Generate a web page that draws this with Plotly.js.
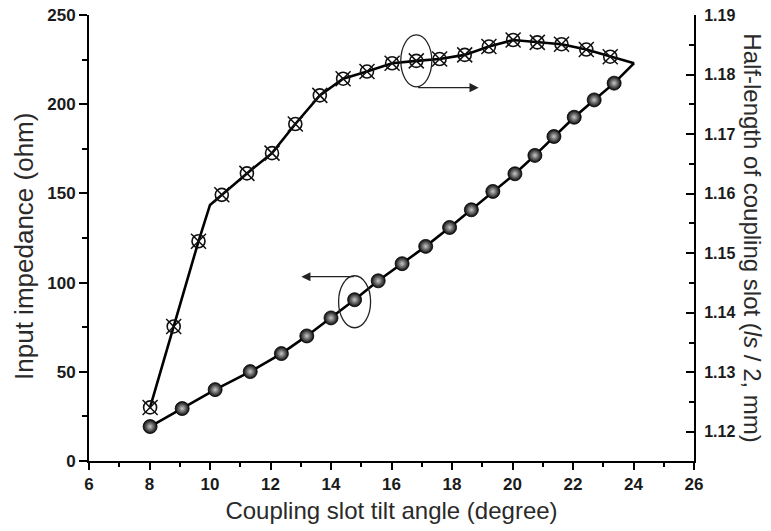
<!DOCTYPE html>
<html>
<head>
<meta charset="utf-8">
<script src="https://cdn.plot.ly/plotly-3.0.1.min.js"></script>
<style>html,body{margin:0;padding:0;background:#fff;}#chart{width:771px;height:531px;}</style>
</head>
<body>
<div id="chart"></div>
<script>
// Series 1: input impedance (left axis), filled spheres
const tiltAngleZ = [8.02, 9.08, 10.17, 11.33, 12.36, 13.2, 14.0, 14.78, 15.56, 16.35, 17.13, 17.92, 18.64, 19.35, 20.08, 20.74, 21.37, 22.04, 22.70, 23.36, 24.02];
const impedance  = [19.3, 29.4, 40.0, 50.1, 60.2, 70.1, 80.2, 90.4, 101.0, 110.6, 120.3, 130.9, 140.8, 151.1, 161.0, 171.3, 181.9, 192.7, 202.4, 211.8, 223.0];
const impedanceMarked = [1,1,1,1,1,1,1,1,1,1,1,1,1,1,1,1,1,1,1,1,0];

// Series 2: half-length of coupling slot (right axis), open circle-x markers
const tiltAngleL = [8.02, 8.80, 9.62, 10.0, 10.39, 11.22, 12.05, 12.82, 13.63, 14.0, 14.40, 15.19, 16.02, 16.82, 17.59, 18.42, 19.22, 20.02, 20.82, 21.62, 22.44, 23.23, 24.02];
const halfLength = [1.1241, 1.1377, 1.1520, 1.1581, 1.1598, 1.1634, 1.1668, 1.1717, 1.1765, 1.1778, 1.1793, 1.1805, 1.1819, 1.1823, 1.1826, 1.1833, 1.1847, 1.1858, 1.1854, 1.1851, 1.1842, 1.1830, 1.1819];
const halfLengthMarked = [1,1,1,0,1,1,1,1,1,0,1,1,1,1,1,1,1,1,1,1,1,1,0];

const xTickVals = [6, 8, 10, 12, 14, 16, 18, 20, 22, 24, 26];
const leftTickVals = [0, 50, 100, 150, 200, 250];
const rightTickVals = [1.12, 1.13, 1.14, 1.15, 1.16, 1.17, 1.18, 1.19];

function pick(arr, flags) { return arr.filter((v, i) => flags[i]); }

const tickFont = {family: 'Liberation Sans, Arial, sans-serif', size: 17, color: '#1a1a1a', weight: 'bold'};
const rightTickFont = {family: 'Liberation Sans, Arial, sans-serif', size: 16, color: '#1a1a1a', weight: 'bold'};
const titleFont = {family: 'Liberation Sans, Arial, sans-serif', size: 24, color: '#2a2a2a'};

const traces = [
  {x: tiltAngleZ, y: impedance, mode: 'lines', line: {color: '#000', width: 2.6}, xaxis: 'x', yaxis: 'y', hoverinfo: 'skip'},
  {x: pick(tiltAngleZ, impedanceMarked), y: pick(impedance, impedanceMarked), mode: 'markers', xaxis: 'x', yaxis: 'y',
   marker: {symbol: 'circle', size: 14, color: '#080808', gradient: {type: 'radial', color: '#c8c8c8'}, line: {width: 0.8, color: '#000'}}},
  {x: tiltAngleL, y: halfLength, mode: 'lines', line: {color: '#000', width: 2.6}, xaxis: 'x', yaxis: 'y2', hoverinfo: 'skip'},
  {x: pick(tiltAngleL, halfLengthMarked), y: pick(halfLength, halfLengthMarked), mode: 'markers', xaxis: 'x', yaxis: 'y2',
   marker: {symbol: 'circle-open', size: 13, color: '#111', line: {width: 1.6, color: '#111'}}},
  {x: pick(tiltAngleL, halfLengthMarked), y: pick(halfLength, halfLengthMarked), mode: 'markers', xaxis: 'x', yaxis: 'y2',
   marker: {symbol: 'x-thin-open', size: 15, color: '#111', line: {width: 1.5, color: '#111'}}}
];

const layout = {
  width: 771, height: 531,
  margin: {l: 89, r: 77, t: 15, b: 70},
  paper_bgcolor: '#fff', plot_bgcolor: '#fff',
  showlegend: false,
  xaxis: {
    range: [6, 26], tickvals: xTickVals, ticks: 'outside', ticklen: 7, tickwidth: 2, tickcolor: '#000',
    showline: true, linewidth: 2, linecolor: '#000', showgrid: false, zeroline: false,
    tickfont: tickFont,
    minor: {dtick: 1, tick0: 6, ticks: 'outside', ticklen: 4, tickwidth: 2, tickcolor: '#000', showgrid: false},
    title: {text: 'Coupling slot tilt angle (degree)', font: titleFont, standoff: 9}
  },
  xaxis2: {
    range: [6, 26], overlaying: 'x', side: 'top', anchor: 'y', dtick: 1, tick0: 6, ticks: 'inside', ticklen: 8, tickwidth: 2,
    tickcolor: '#000', showticklabels: false, showline: true, linewidth: 2, linecolor: '#000', showgrid: false, zeroline: false
  },
  yaxis: {
    range: [0, 250], tickvals: leftTickVals, ticks: 'outside', ticklen: 8, tickwidth: 2, tickcolor: '#000',
    showline: true, linewidth: 2, linecolor: '#000', showgrid: false, zeroline: false,
    tickfont: tickFont,
    minor: {dtick: 25, tick0: 0, ticks: 'outside', ticklen: 5, tickwidth: 2, tickcolor: '#000', showgrid: false}
  },
  yaxis2: {
    range: [1.1151, 1.19], overlaying: 'y', side: 'right', anchor: 'x', tickvals: rightTickVals, tickformat: '.2f',
    ticks: 'inside', ticklen: 8, tickwidth: 2, tickcolor: '#000', ticklabelstandoff: 5,
    showline: true, linewidth: 2, linecolor: '#000', showgrid: false, zeroline: false,
    tickfont: rightTickFont,
    minor: {dtick: 0.005, tick0: 1.12, ticks: 'inside', ticklen: 5, tickwidth: 2, tickcolor: '#000', showgrid: false}
  },
  shapes: [
    {type: 'circle', xref: 'x', yref: 'y2', xsizemode: 'pixel', ysizemode: 'pixel',
     xanchor: tiltAngleL[13], yanchor: halfLength[13], x0: -15.5, x1: 15.5, y0: -26, y1: 26,
     line: {color: '#222', width: 1.3}, layer: 'above'},
    {type: 'circle', xref: 'x', yref: 'y', xsizemode: 'pixel', ysizemode: 'pixel',
     xanchor: tiltAngleZ[7], yanchor: impedance[7], x0: -16, x1: 16, y0: -28, y1: 24,
     line: {color: '#222', width: 1.3}, layer: 'above'}
  ],
  annotations: [
    {xref: 'x', yref: 'y2', x: 18.88, y: 1.1778, text: '', showarrow: true, ax: -62, ay: 0,
     arrowhead: 2, arrowsize: 1.4, arrowwidth: 1.3, arrowcolor: '#222'},
    {xref: 'x', yref: 'y', x: 13.02, y: 103.3, text: '', showarrow: true, ax: 54, ay: 0,
     arrowhead: 2, arrowsize: 1.4, arrowwidth: 1.3, arrowcolor: '#222'},
    {xref: 'paper', yref: 'paper', x: -0.1074, y: 0.48, xanchor: 'center', yanchor: 'middle', textangle: -90,
     text: 'Input impedance (ohm)', showarrow: false, font: Object.assign({}, titleFont, {size: 26})},
    {xref: 'paper', yref: 'paper', x: 1.097, y: 0.5, xanchor: 'center', yanchor: 'middle', textangle: 90,
     text: 'Half-length of coupling slot (<i>ls</i> / 2, mm)', showarrow: false, font: titleFont}
  ]
};

Plotly.newPlot('chart', traces, layout, {staticPlot: true, displayModeBar: false});
</script>
</body>
</html>
